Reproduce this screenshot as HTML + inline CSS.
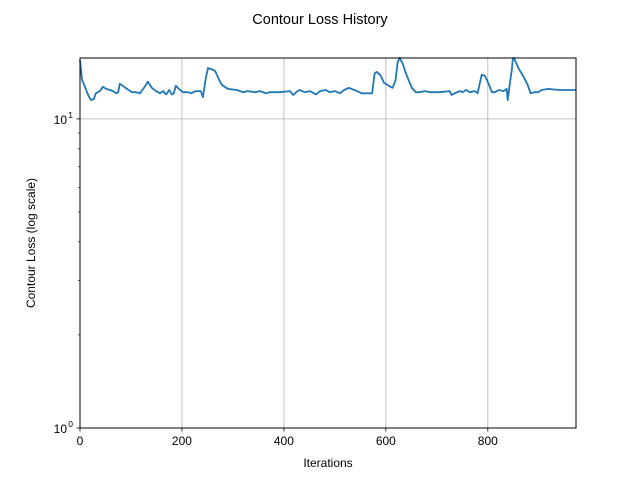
<!DOCTYPE html>
<html><head><meta charset="utf-8"><style>
body{margin:0;background:#fff;}
svg{display:block;font-family:"Liberation Sans","DejaVu Sans",sans-serif;}
</style></head><body>
<svg id="chart" width="640" height="480" viewBox="0 0 640 480">
<rect width="640" height="480" fill="#fff"/>
<text x="320" y="24" font-size="14.5" text-anchor="middle">Contour Loss History</text>
<g id="grid"></g>
<g id="axes"></g>
<g id="series"></g>
<rect x="80" y="58" width="496" height="370" fill="none" stroke="#000" stroke-width="1"/>
<text x="328" y="467" font-size="12" text-anchor="middle">Iterations</text>
<text x="35" y="243" font-size="12" text-anchor="middle" transform="rotate(-90 35 243)">Contour Loss (log scale)</text>
</svg>
<script>
const iterations=[0,4,16,20,22,27,31,39,45,51,59,65,71,75,78,84,92,102,110,118,122,127,133,141,149,157,163,169,175,180,184,188,194,202,212,218,227,237,241,247,251,257,265,271,278,290,308,320,329,343,353,365,372,382,392,412,418,427,431,441,451,463,471,482,490,500,510,518,527,533,543,553,561,567,573,578,582,590,596,606,613,619,623,627,633,639,645,651,659,667,676,688,706,725,729,735,745,751,757,765,773,778,780,784,788,794,798,804,808,814,822,831,837,839,843,847,849,851,861,869,878,884,892,898,906,918,941,973];
const losses=[15.5,13.4,11.95,11.6,11.5,11.6,12.1,12.3,12.7,12.5,12.4,12.3,12.1,12.2,13.0,12.8,12.5,12.2,12.2,12.1,12.4,12.7,13.2,12.6,12.3,12.1,12.3,12.0,12.4,12.0,12.1,12.8,12.5,12.2,12.2,12.1,12.3,12.3,11.75,13.6,14.6,14.5,14.3,13.6,12.9,12.5,12.4,12.2,12.3,12.2,12.3,12.1,12.2,12.2,12.2,12.3,11.95,12.3,12.4,12.2,12.3,12.0,12.3,12.4,12.2,12.3,12.1,12.4,12.6,12.5,12.3,12.1,12.1,12.1,12.1,14.0,14.2,13.8,13.1,12.8,12.6,13.3,15.2,15.76,15.1,14.1,13.3,12.6,12.2,12.2,12.3,12.2,12.2,12.3,11.95,12.1,12.3,12.2,12.4,12.2,12.3,12.2,12.1,13.0,13.9,13.8,13.4,12.7,12.2,12.2,12.4,12.3,12.5,11.5,12.9,14.4,15.6,15.76,14.5,13.8,12.9,12.1,12.2,12.2,12.4,12.5,12.4,12.4];
const xTicks=[0,200,400,600,800];
const yMajor=[1,10];
const yMajorLabels=["10","10"];
const yMajorExp=["0","1"];
const yMinor=[2,3,4,5,6,7,8,9];

const X0=80,X1=576,Y0=428,Y1=58,XMAX=973;
function xs(v){return X0+(v/XMAX)*(X1-X0);}
function ys(v){return Y0-(Math.log10(v))/(1.197)*(Y0-Y1);}
const NS="http://www.w3.org/2000/svg";
function mk(tag,attrs,parent){const e=document.createElementNS(NS,tag);for(const k in attrs)e.setAttribute(k,attrs[k]);parent.appendChild(e);return e;}
const grid=document.getElementById('grid'),axes=document.getElementById('axes'),series=document.getElementById('series');
xTicks.forEach(t=>{
  const x=xs(t);
  if(t>0){const g=mk('line',{x1:x,x2:x,y1:Y1,y2:Y0,stroke:'#b0b0b0','stroke-width':0.8},grid);
  
  }
  const tk=mk('line',{x1:x,x2:x,y1:Y0,y2:Y0+3.5,stroke:'#000','stroke-width':0.8},axes);
  
  
  const lb=mk('text',{x:x,y:Y0+17,'font-size':12,'text-anchor':'middle'},axes);
  lb.textContent=t;
  
  
});
yMajor.forEach((v,i)=>{
  const y=ys(v);
  if(v>1){const g=mk('line',{x1:X0,x2:X1,y1:y,y2:y,stroke:'#b0b0b0','stroke-width':0.8},grid);
  
  }
  const tk=mk('line',{x1:X0-3.5,x2:X0,y1:y,y2:y,stroke:'#000','stroke-width':0.8},axes);
  
  
  const lb=mk('text',{x:X0-13,y:y+5,'font-size':12,'text-anchor':'end'},axes);
  lb.textContent=yMajorLabels[i];
  
  
  const ex=mk('text',{x:X0-7,y:y-1,'font-size':8.5,'text-anchor':'end'},axes);
  ex.textContent=yMajorExp[i];
  
  
});
yMinor.forEach(v=>{
  const y=ys(v);
  const tk=mk('line',{x1:X0-2,x2:X0,y1:y,y2:y,stroke:'#000','stroke-width':0.6},axes);
  
  
});
const pts=iterations.map((t,i)=>xs(t).toFixed(1)+','+ys(losses[i]).toFixed(1)).join(' ');
const line=mk('polyline',{points:pts,fill:'none',stroke:'#1f77b4','stroke-width':1.8,'stroke-linejoin':'round'},series);


</script>
</body></html>
